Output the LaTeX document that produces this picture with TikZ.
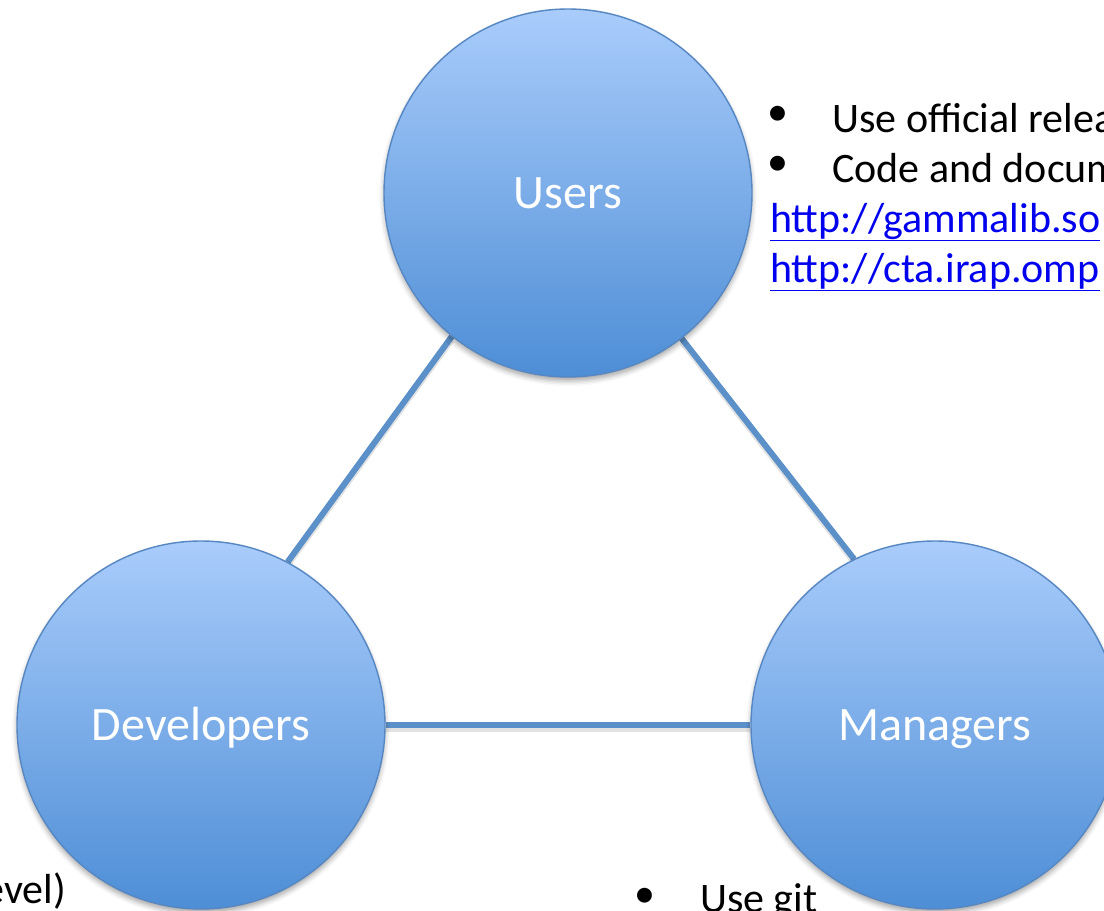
\documentclass[tikz,border=0pt]{standalone}
\usepackage{fontspec}
\setmainfont{Carlito}
\usetikzlibrary{shadows.blur,backgrounds}

\definecolor{ballTop}{HTML}{A9CCFB}
\definecolor{ballBottom}{HTML}{4E8ED6}
\definecolor{ballEdge}{HTML}{5687C2}
\definecolor{linkLine}{HTML}{5B90C8}
\definecolor{linkBlue}{HTML}{0000EE}

\tikzset{
  role/.style={circle, minimum size=368pt, inner sep=0pt,
    top color=ballTop, bottom color=ballBottom,
    draw=ballEdge, line width=1.4pt,
    blur shadow={shadow xshift=0pt, shadow yshift=-4pt,
      shadow blur radius=5pt, shadow opacity=35},
    text=white, font=\fontsize{48}{56}\selectfont,
    text height=34pt, text depth=4pt},
  tie/.style={draw=linkLine, line width=6pt},
  tieshade/.style={draw=black!25, line width=5pt, opacity=0.45},
  note/.style={inner sep=0pt, anchor=base west, text=black,
    font=\fontsize{42}{50}\selectfont},
  dot/.style={inner sep=0pt, anchor=center, text=black,
    font=\fontsize{42}{50}\selectfont},
  url/.style={inner sep=0pt, anchor=base west, text=linkBlue,
    font=\fontsize{42}{50}\selectfont}
}

\begin{document}
\begin{tikzpicture}[x=1pt,y=-1pt]
  \useasboundingbox (0,0) rectangle (1104,911);

  % the three roles
  \node[role] (users) at (568,193) {Users};
  \node[role] (devs)  at (201,725) {Developers};
  \node[role] (mgrs)  at (935,725) {Managers};

  % connections, drawn behind the circles
  \begin{scope}[on background layer]
    \draw[tieshade] ([yshift=-4pt]users.231.6) -- ([yshift=-4pt]devs.62);
    \draw[tieshade] ([yshift=-4pt]users.308.2) -- ([yshift=-4pt]mgrs.116);
    \draw[tieshade] ([yshift=-4pt]devs.east) -- ([yshift=-4pt]mgrs.west);
    \draw[tie] (users.231.6) -- (devs.62);
    \draw[tie] (users.308.2) -- (mgrs.116);
    \draw[tie] (devs.east) -- (mgrs.west);
  \end{scope}

  % notes for users
  \node[dot] (b1) at (778,116) {•};
  \node[note] (t1) at (832,132) {Use official relea};
  \node[dot] (b2) at (778,166) {•};
  \node[note] (t2) at (832,182) {Code and docum};
  \node[url] (u1) at (770,232) {\underline{http://gammalib.so}};
  \node[url] (u2) at (770,282) {\underline{http://cta.irap.omp}};

  % notes for developers
  \node[note, anchor=base east] (t3) at (66,903) {evel)};

  % notes for managers
  \node[dot] (b3) at (645,898) {•};
  \node[note] (t4) at (700,912) {Use git};
\end{tikzpicture}
\end{document}
